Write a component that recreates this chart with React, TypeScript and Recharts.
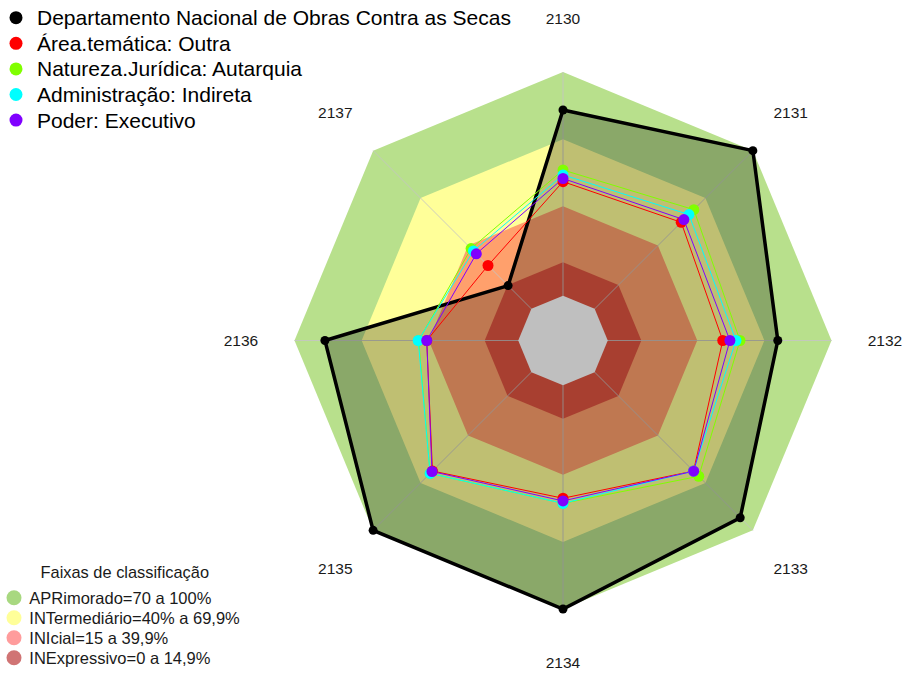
import React from 'react';
import { RadarChart, Radar, PolarGrid, PolarAngleAxis, PolarRadiusAxis } from 'recharts';

// ---- data ----
const categories = ['2130', '2131', '2132', '2133', '2134', '2135', '2136', '2137'];
const seriesNames = [
  'Departamento Nacional de Obras Contra as Secas',
  'Área.temática: Outra',
  'Natureza.Jurídica: Autarquia',
  'Administração: Indireta',
  'Poder: Executivo',
];
const dnocs = [83, 100, 76, 92, 100, 100, 86.4, 14.7];
const areaOutra = [51, 54.7, 51.4, 62.5, 50.5, 62.5, 40.9, 27.4];
const autarquia = [56.2, 62.7, 59.1, 65.8, 52.8, 64, 44.5, 38.1];
const indireta = [54, 59.6, 57.3, 62.5, 52.8, 64, 44.7, 36.6];
const executivo = [52.4, 56.4, 54.6, 62.6, 51.7, 62.8, 40.9, 34.8];
const bandLimits = [100, 70, 40, 15, 0];
const bandLegendLabels = [
  'APRimorado=70 a 100%',
  'INTermediário=40% a 69,9%',
  'INIcial=15 a 39,9%',
  'INExpressivo=0 a 14,9%',
];
const legendTitle = 'Faixas de classificação';
const radialDomain = [-20, 100];

// ---- styles ----
const seriesColors = ['#000000', '#ff0000', '#80ff00', '#00ffff', '#8000ff'];
const bandFills = ['#b8e08c', '#ffff99', '#ffa06c', '#e05540', '#ffffff'];
const bandLegendColors = ['#a8d880', '#ffff99', '#ff9c9c', '#d07474'];
const FONT = '"Liberation Sans", Arial, sans-serif';
const CX = 563;
const CY = 340.5;
const OUTER_R = 268.5;
const LABEL_R = 322;

const seriesData = [dnocs, areaOutra, autarquia, indireta, executivo];

const table = categories.map((cat, i) => {
  const row: Record<string, any> = { cat };
  seriesData.forEach((arr, s) => {
    row['s' + s] = arr[i];
  });
  bandLimits.forEach((v, b) => {
    row['b' + b] = v;
  });
  return row;
});

const AngleTick = (props: any) => {
  const { x, y, payload } = props;
  const dx = x - CX;
  const dy = y - CY;
  const d = Math.hypot(dx, dy) || 1;
  const tx = CX + (dx / d) * LABEL_R;
  const ty = CY + (dy / d) * LABEL_R;
  return (
    <text
      x={tx}
      y={ty}
      textAnchor="middle"
      dominantBaseline="central"
      fontSize={15.5}
      fontFamily={FONT}
      fill="#1a1a1a"
    >
      {payload.value}
    </text>
  );
};

export default function App() {
  const lastBand = bandLimits.length - 1;
  return (
    <div style={{ position: 'absolute', left: 0, top: 0, width: 905, height: 673, background: '#ffffff' }}>
      <RadarChart
        width={905}
        height={673}
        data={table}
        cx={CX}
        cy={CY}
        outerRadius={OUTER_R}
        startAngle={90}
        endAngle={-270}
        margin={{ top: 0, right: 0, bottom: 0, left: 0 }}
      >
        <PolarRadiusAxis domain={radialDomain} type="number" tick={false} axisLine={false} allowDataOverflow />
        <PolarAngleAxis dataKey="cat" tick={<AngleTick />} tickLine={false} axisLine={false} />
        {bandLimits.map((_, b) => (
          <Radar
            key={'band' + b}
            dataKey={'b' + b}
            stroke="none"
            fill={bandFills[b]}
            fillOpacity={1}
            dot={false}
            legendType="none"
            isAnimationActive={false}
            {...({ zIndex: b === lastBand ? 160 : 100 } as any)}
          />
        ))}
        <PolarGrid
          gridType="polygon"
          polarRadius={[0]}
          stroke="#c4c4c4"
          strokeOpacity={0.85}
          {...({ zIndex: 150 } as any)}
        />
        {seriesNames.map((name, s) => (
          <Radar
            key={'s' + s}
            name={name}
            dataKey={'s' + s}
            stroke={seriesColors[s]}
            strokeWidth={s === 0 ? 3.5 : 1}
            fill={s === 0 ? '#000000' : 'none'}
            fillOpacity={s === 0 ? 0.25 : 0}
            dot={{ r: s === 0 ? 4.5 : 5.5, fill: seriesColors[s], stroke: 'none', fillOpacity: 1 }}
            isAnimationActive={false}
            {...({ zIndex: 200 } as any)}
          />
        ))}
      </RadarChart>
      <svg
        width={905}
        height={673}
        style={{ position: 'absolute', left: 0, top: 0, pointerEvents: 'none' }}
      >
        {seriesNames.map((name, i) => (
          <g key={'lg' + i}>
            <circle cx={16} cy={17.7 + 25.6 * i} r={6.5} fill={seriesColors[i]} />
            <text
              x={37}
              y={17.7 + 25.6 * i}
              dominantBaseline="central"
              fontSize={21}
              fontFamily={FONT}
              fill="#000000"
            >
              {name}
            </text>
          </g>
        ))}
        <text
          x={124.8}
          y={571.7}
          textAnchor="middle"
          dominantBaseline="central"
          fontSize={16.4}
          fontFamily={FONT}
          fill="#1a1a1a"
        >
          {legendTitle}
        </text>
        {bandLegendLabels.map((label, i) => (
          <g key={'bl' + i}>
            <circle cx={14} cy={597.7 + 20 * i} r={7.5} fill={bandLegendColors[i]} />
            <text
              x={29.3}
              y={597.7 + 20 * i}
              dominantBaseline="central"
              fontSize={16.5}
              fontFamily={FONT}
              fill="#1a1a1a"
            >
              {label}
            </text>
          </g>
        ))}
      </svg>
    </div>
  );
}
